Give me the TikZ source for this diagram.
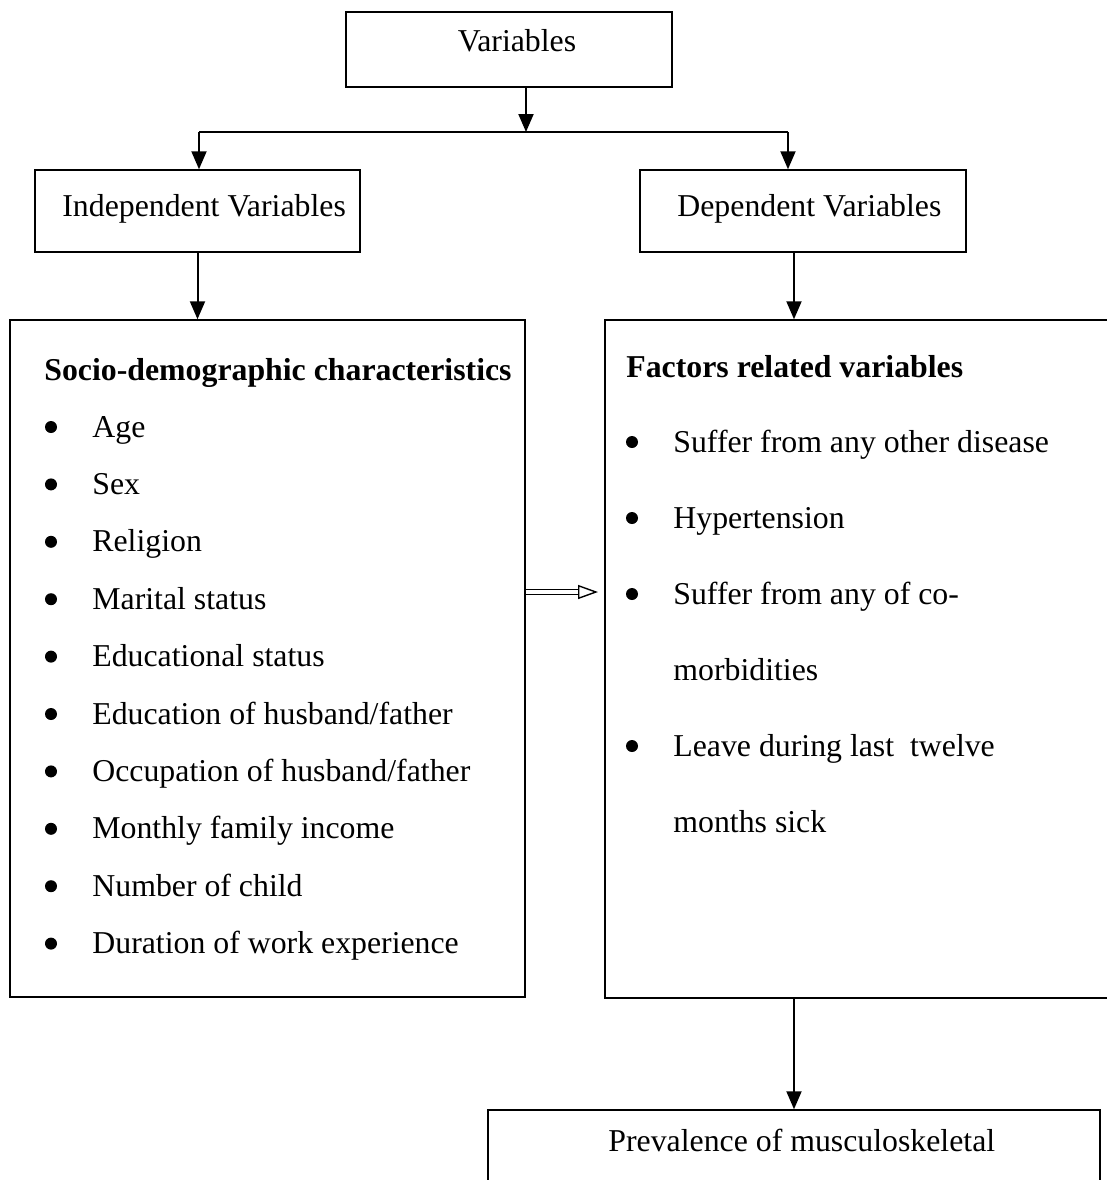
\documentclass[tikz,border=0pt]{standalone}
\usepackage{fontspec}
\setmainfont{Liberation Serif}
\usetikzlibrary{positioning,arrows.meta}

\begin{document}
\begin{tikzpicture}[
                x=0.5pt, y=-0.5pt,
                font=\fontsize{15.9pt}{19pt}\selectfont,
                box/.style={draw, line width=0.75pt, inner sep=0pt},
                txt/.style={anchor=base west, inner sep=0pt},
                ctr/.style={anchor=base, inner sep=0pt},
                bul/.style={circle, fill, inner sep=0pt, minimum size=6pt},
                arr/.style={->, >={Triangle[length=9pt,width=7.5pt]}, line width=1pt},
                dbl/.style={double, double distance=1.8pt, line width=0.7pt, -{Triangle[open, length=10pt, width=7pt]}}
            ]
            \useasboundingbox (0,0) rectangle (1107,1180);
            \clip (0,0) rectangle (1107,1180);

            \node[box, minimum width=163pt, minimum height=37.5pt] (var) at (509,49.5) {};
            \node[box, minimum width=162.5pt, minimum height=41pt] (indep) at (197.5,211) {};
            \node[box, minimum width=163pt, minimum height=41pt] (dep) at (803,211) {};
            \node[box, minimum width=257.5pt, minimum height=338.5pt] (socio) at (267.5,658.5) {};
            \node[box, minimum width=257.5pt, minimum height=339pt] (fact) at (862.5,659) {};
            \node[box, minimum width=306pt, minimum height=40pt] (prev) at (794,1150) {};

            \node[ctr] (var_t) at (517,51) {Variables};
            \node[txt] (indep_t) at (62,216) {Independent Variables};
            \node[txt] (dep_t) at (677,216) {Dependent Variables};
            \node[txt] (prev_t) at (608,1151) {Prevalence of musculoskeletal};

            \node[txt] (socio_t) at (44,380) {\bfseries Socio-demographic characteristics};
            \node[bul] (b1) at (51,427) {};
            \node[txt] (age) at (92,437) {Age};
            \node[bul] (b2) at (51,484.4) {};
            \node[txt] (sex) at (92,494.4) {Sex};
            \node[bul] (b3) at (51,541.8) {};
            \node[txt] (religion) at (92,551.8) {Religion};
            \node[bul] (b4) at (51,599.2) {};
            \node[txt] (marital) at (92,609.2) {Marital status};
            \node[bul] (b5) at (51,656.6) {};
            \node[txt] (edu) at (92,666.6) {Educational status};
            \node[bul] (b6) at (51,714) {};
            \node[txt] (edu_h) at (92,724) {Education of husband/father};
            \node[bul] (b7) at (51,771.4) {};
            \node[txt] (occ_h) at (92,781.4) {Occupation of husband/father};
            \node[bul] (b8) at (51,828.8) {};
            \node[txt] (income) at (92,838.8) {Monthly family income};
            \node[bul] (b9) at (51,886.2) {};
            \node[txt] (child) at (92,896.2) {Number of child};
            \node[bul] (b10) at (51,943.6) {};
            \node[txt] (work) at (92,953.6) {Duration of work experience};

            \node[txt] (fact_t) at (626,377) {\bfseries Factors related variables};
            \node[bul] (f1) at (632,442) {};
            \node[txt] (disease) at (673,452) {Suffer from any other disease};
            \node[bul] (f2) at (632,518) {};
            \node[txt] (hyper) at (673,528) {Hypertension};
            \node[bul] (f3) at (632,594) {};
            \node[txt] (como1) at (673,604) {Suffer from any of co-};
            \node[txt] (como2) at (673,680) {morbidities};
            \node[bul] (f4) at (632,746) {};
            \node[txt] (leave1) at (673,756) {Leave during last\ \ twelve};
            \node[txt] (leave2) at (673,832) {months sick};

            \coordinate (split) at (526,132);
            \coordinate (branchL) at (199,132);
            \coordinate (branchR) at (788,132);
            \coordinate (dtip) at (598,592);

            \draw[arr] (var.south -| split) -- (split);
            \draw[line width=1pt] (branchL) -- (branchR);
            \draw[arr] (branchL) -- (branchL |- indep.north);
            \draw[arr] (branchR) -- (branchR |- dep.north);

            \draw[arr] (indep.south) -- (indep.south |- socio.north);
            \draw[arr] (dep.south -| prev.north) -- (fact.north -| prev.north);
            \draw[arr] (fact.south -| prev.north) -- (prev.north);

            \draw[dbl] (socio.east |- dtip) -- (dtip);
        \end{tikzpicture}
\end{document}
